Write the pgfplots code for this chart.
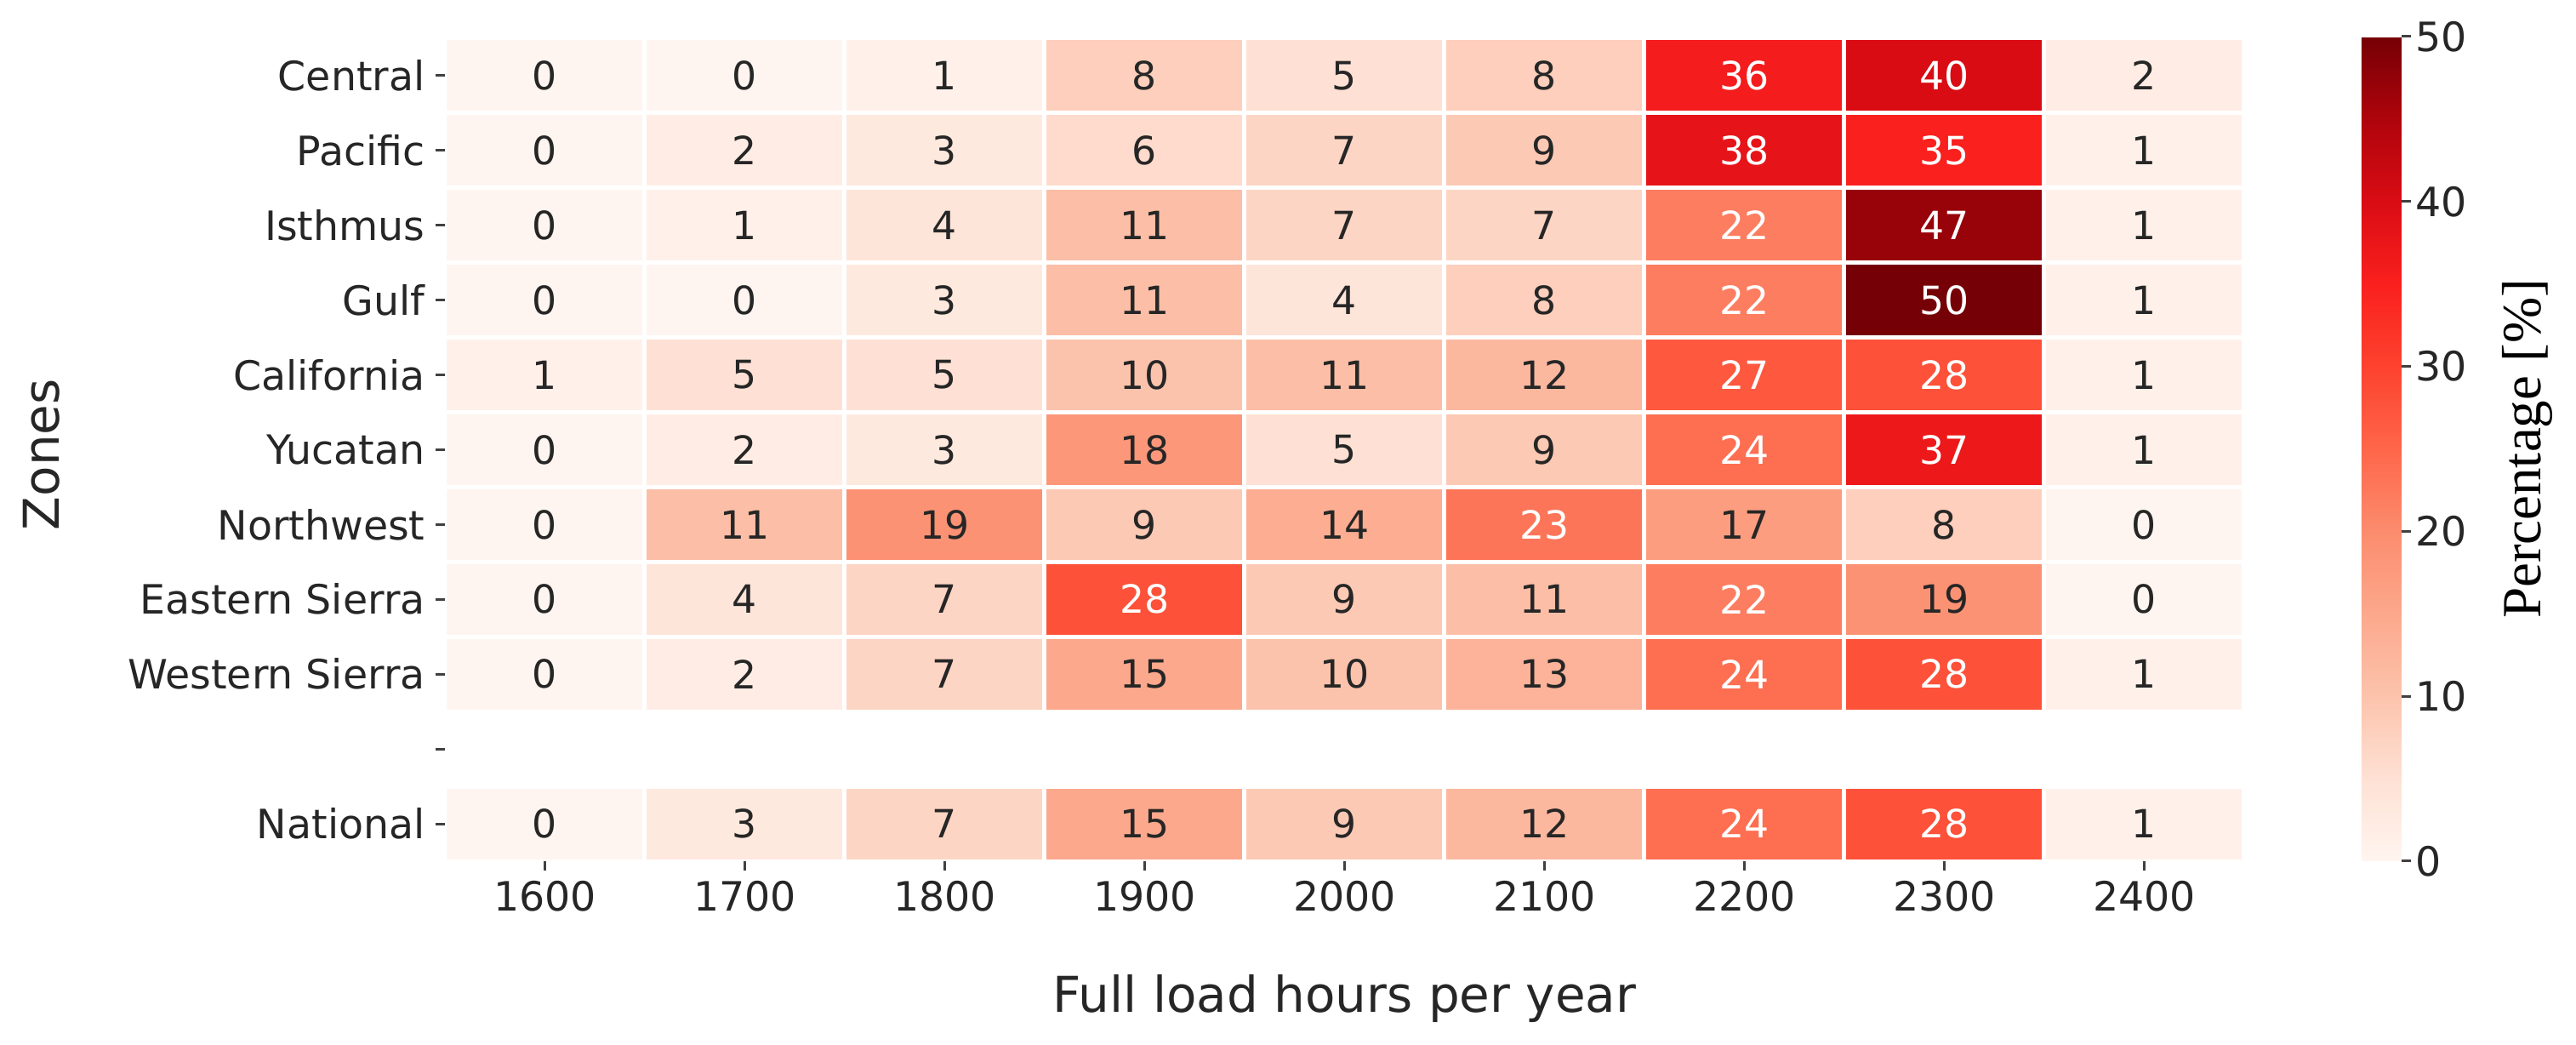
\documentclass[border=0pt]{standalone}
\usepackage{fontspec}
\setmainfont{DejaVu Sans}
\newfontfamily\serif{Liberation Serif}
\usepackage{pgfplots}
\usepackage{pgfplotstable}
\pgfplotsset{compat=1.18}
\pgfplotsset{/pgf/number format/assume math mode=true}
\definecolor{txt}{HTML}{262626}
\definecolor{tickc}{HTML}{404040}
% heatmap cell: 23.0mm x 8.3mm filled rectangle centred on the data point
\pgfdeclareplotmark{cell}{%
  \pgfpathrectangle{\pgfpoint{-11.5mm}{-4.15mm}}{\pgfpoint{23mm}{8.3mm}}%
  \pgfusepathqfill}

% x: column index (0=1600 ... 8=2400), y: row (10=Central ... 2=Western Sierra, 0=National), v: percentage
\pgfplotstableread{
x y v
0 10 0
1 10 0
2 10 1
3 10 8
4 10 5
5 10 8
6 10 36
7 10 40
8 10 2
0 9 0
1 9 2
2 9 3
3 9 6
4 9 7
5 9 9
6 9 38
7 9 35
8 9 1
0 8 0
1 8 1
2 8 4
3 8 11
4 8 7
5 8 7
6 8 22
7 8 47
8 8 1
0 7 0
1 7 0
2 7 3
3 7 11
4 7 4
5 7 8
6 7 22
7 7 50
8 7 1
0 6 1
1 6 5
2 6 5
3 6 10
4 6 11
5 6 12
6 6 27
7 6 28
8 6 1
0 5 0
1 5 2
2 5 3
3 5 18
4 5 5
5 5 9
6 5 24
7 5 37
8 5 1
0 4 0
1 4 11
2 4 19
3 4 9
4 4 14
5 4 23
6 4 17
7 4 8
8 4 0
0 3 0
1 3 4
2 3 7
3 3 28
4 3 9
5 3 11
6 3 22
7 3 19
8 3 0
0 2 0
1 2 2
2 2 7
3 2 15
4 2 10
5 2 13
6 2 24
7 2 28
8 2 1
0 0 0
1 0 3
2 0 7
3 0 15
4 0 9
5 0 12
6 0 24
7 0 28
8 0 1
}\heat

\begin{document}
\begin{tikzpicture}
\useasboundingbox (-52.3mm,-21.6mm) rectangle (250.5mm,101.2mm);
\begin{axis}[
  at={(0,0)}, anchor=south west,
  scale only axis, width=211.5mm, height=96.7mm,
  xmin=-0.5, xmax=8.5, ymin=-0.5, ymax=10.5,
  clip=false,
  separate axis lines, axis x line*=bottom, axis y line*=left,
  axis line style={draw=none},
  xtick={0,...,8},
  xticklabels={1600,1700,1800,1900,2000,2100,2200,2300,2400},
  ytick={0,...,10},
  yticklabels={National,{},Western Sierra,Eastern Sierra,Northwest,Yucatan,California,Gulf,Isthmus,Pacific,Central},
  tick align=outside, major tick length=1.1mm,
  tick style={color=tickc, line width=0.3mm},
  ticklabel style={font=\fontsize{13.5}{16}\selectfont, text=txt},
  xlabel={Full load hours per year}, ylabel={Zones},
  every axis x label/.style={at={(axis description cs:0.5,-0.184)}, anchor=base, font=\fontsize{16.5}{19}\selectfont, text=txt},
  every axis y label/.style={at={(axis description cs:-0.2243,0.494)}, anchor=center, rotate=90, font=\fontsize{16.5}{19}\selectfont, text=txt},
  % stops at 0,5,10,...,50
  colormap={redsx}{rgb255=(255,245,240) rgb255=(254,225,212) rgb255=(252,195,172) rgb255=(252,168,140) rgb255=(252,140,110) rgb255=(254,102,74) rgb255=(253,66,46) rgb255=(250,32,30) rgb255=(217,12,20) rgb255=(175,4,12) rgb255=(117,0,5)},
  point meta min=0, point meta max=50,
  colorbar,
  colorbar style={
    at={(parent axis.south east)}, anchor=south west, xshift=10.8mm,
    scale only axis, width=4.7mm, height=96.9mm,
    ytick={0,10,...,50}, ytick pos=right, yticklabel pos=right,
    axis line style={draw=none},
    tick align=outside, major tick length=1.1mm,
    tick style={color=tickc, line width=0.3mm},
    yticklabel style={font=\fontsize{13.5}{16}\selectfont, text=txt, xshift=-0.7mm},
    ylabel={Percentage [\%]},
    every axis y label/.style={at={(axis description cs:4.15,0.5)}, anchor=center, rotate=90, font=\serif\fontsize{18.5}{21}\selectfont, text=black},
  },
]
% coloured cells
\addplot[
  scatter, only marks, mark=cell,
  scatter/use mapped color={draw=mapped color, fill=mapped color},
  point meta=explicit,
] table[x=x, y=y, meta=v] {\heat};
% annotations
\addplot[
  only marks, mark=none,
  point meta=explicit,
  nodes near coords={\pgfmathparse{\pgfplotspointmetatransformed>400?"white":"txt"}\color{\pgfmathresult}\pgfmathprintnumber{\pgfplotspointmeta}},
  nodes near coords align=center,
  every node near coord/.append style={font=\fontsize{13}{15}\selectfont, inner sep=0pt, anchor=center},
] table[x=x, y=y, meta=v] {\heat};
\end{axis}
\end{tikzpicture}
\end{document}
